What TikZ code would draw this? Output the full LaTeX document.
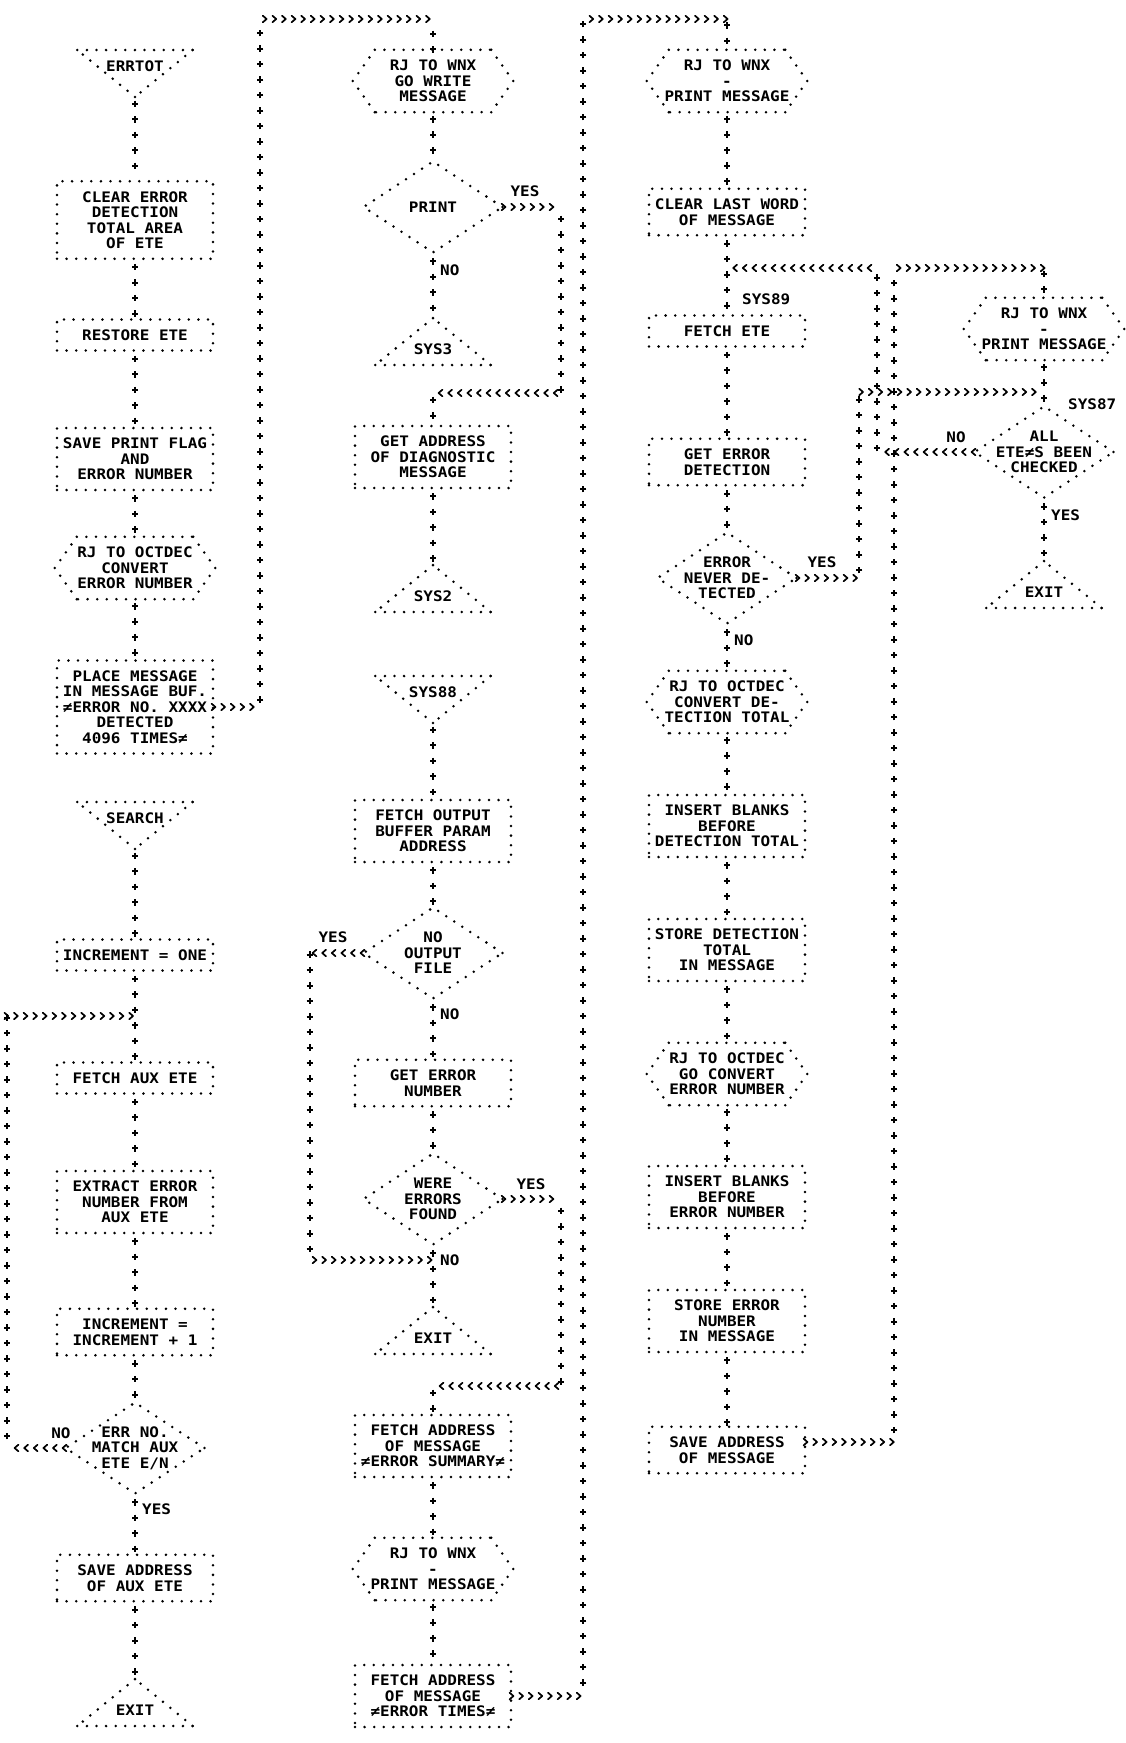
\documentclass[tikz,border=0pt]{standalone}
\usepackage{fontspec}
\newfontfamily\lpfont{DejaVu Sans Mono}[FakeStretch=1.1]
\usetikzlibrary{shapes.geometric,decorations.markings}
\newcommand\lpmark[1]{%
  \pgfgettransformentries{\lpa}{\lpb}{\lpc}{\lpd}{\lpx}{\lpy}%
  \pgfmathsetmacro\lph{abs(\lpa)}%
  \ifnum#1=1
    \ifdim\lph pt>0.5pt
      \draw[line width=1.7pt, line cap=round, line join=round, solid] (-2.8pt,3.3pt) -- (1pt,0pt) -- (-2.8pt,-3.3pt);
    \fi
  \else
    \ifdim\lph pt<0.5pt
      \draw[line width=2pt, solid] (-3.3pt,0pt) -- (3.3pt,0pt) (0pt,-3pt) -- (0pt,3pt);
    \fi
  \fi}

\begin{document}
\begin{tikzpicture}[
    x=1pt, y=-1pt,
    every node/.style={font=\lpfont\bfseries\fontsize{14.5}{15.5}\selectfont},
    dots/.style={line width=2.8pt, line cap=round, dash pattern=on 0pt off 9.6pt},
    box/.style={draw, dots, minimum width=156pt, inner sep=0pt, align=center},
    rjbox/.style={minimum width=160pt, minimum height=62pt, inner sep=0pt, align=center,
      append after command={
        (\tikzlastnode.west) edge[dots] ([xshift=22pt]\tikzlastnode.north west)
        ([xshift=22pt]\tikzlastnode.north west) edge[dots] ([xshift=-22pt]\tikzlastnode.north east)
        ([xshift=-22pt]\tikzlastnode.north east) edge[dots] (\tikzlastnode.east)
        (\tikzlastnode.east) edge[dots] ([xshift=-22pt]\tikzlastnode.south east)
        ([xshift=-22pt]\tikzlastnode.south east) edge[dots] ([xshift=22pt]\tikzlastnode.south west)
        ([xshift=22pt]\tikzlastnode.south west) edge[dots] (\tikzlastnode.west)}},
    termin/.style={minimum width=115pt, inner sep=0pt, text height=21pt, text depth=25.5pt,
      append after command={
        (\tikzlastnode.north west) edge[dots] (\tikzlastnode.north east)
        (\tikzlastnode.north east) edge[dots] (\tikzlastnode.south)
        (\tikzlastnode.south) edge[dots] (\tikzlastnode.north west)}},
    termout/.style={minimum width=115pt, inner sep=0pt, text height=36pt, text depth=10.5pt,
      append after command={
        (\tikzlastnode.south west) edge[dots] (\tikzlastnode.south east)
        (\tikzlastnode.south east) edge[dots] (\tikzlastnode.north)
        (\tikzlastnode.north) edge[dots] (\tikzlastnode.south west)}},
    decide/.style={diamond, draw, dots, aspect=1.5, inner sep=-4pt, minimum width=140pt, minimum height=92pt, align=center},
    lbl/.style={inner sep=0pt},
    flow/.style={
      postaction={decorate, decoration={markings,
        mark=between positions 0 and 1 step 9.6pt with {\lpmark{1}}}},
      postaction={decorate, decoration={markings,
        mark=between positions 7pt and 1 step 15.5pt with {\lpmark{0}}}}}
  ]
  \useasboundingbox (0,0) rectangle (1126,1743);

  \node[termin, anchor=north] (errtot) at (135,50) {ERRTOT};
  \node[box, minimum height=77.5pt] (clear) at (135,220) {CLEAR ERROR\\DETECTION\\TOTAL AREA\\OF ETE};
  \node[box, minimum height=31pt] (restore) at (135,335) {RESTORE ETE};
  \node[box, minimum height=62pt] (saveflag) at (135,459) {SAVE PRINT FLAG\\AND\\ERROR NUMBER};
  \node[rjbox] (octdec1) at (135,568) {RJ TO OCTDEC\\CONVERT\\ERROR NUMBER};
  \node[box, minimum height=93pt] (place) at (135,707) {PLACE MESSAGE\\IN MESSAGE BUF.\\≠ERROR NO. XXXX\\DETECTED\\4096 TIMES≠};
  \node[termin, anchor=north] (search) at (135,802) {SEARCH};
  \node[box, minimum height=31pt] (incone) at (135,955) {INCREMENT = ONE};
  \coordinate (j1) at (135,1016);
  \node[box, minimum height=31pt] (fetchaux) at (135,1078) {FETCH AUX ETE};
  \node[box, minimum height=62pt] (extract) at (135,1202) {EXTRACT ERROR\\NUMBER FROM\\AUX ETE};
  \node[box, minimum height=46.5pt] (incr) at (135,1332) {INCREMENT =\\INCREMENT + 1};
  \node[decide] (match) at (135,1448) {ERR NO.\\MATCH AUX\\ETE E/N};
  \node[box, minimum height=46.5pt] (saveaux) at (135,1578) {SAVE ADDRESS\\OF AUX ETE};
  \node[termout, anchor=south] (exit1) at (135,1726) {EXIT};

  \coordinate (t1) at (433,19);
  \node[rjbox] (rjwrite) at (433,81) {RJ TO WNX\\GO WRITE\\MESSAGE};
  \node[decide] (print) at (433,207) {PRINT};
  \node[termout, anchor=south] (sys3) at (433,365) {SYS3};
  \coordinate (j2) at (433,393);
  \node[box, minimum height=62pt] (getaddr) at (433,457) {GET ADDRESS\\OF DIAGNOSTIC\\MESSAGE};
  \node[termout, anchor=south] (sys2) at (433,612) {SYS2};
  \node[termin, anchor=north] (sys88) at (433,676) {SYS88};
  \node[box, minimum height=62pt] (fetchout) at (433,831) {FETCH OUTPUT\\BUFFER PARAM\\ADDRESS};
  \node[decide] (nooutput) at (433,953) {NO\\OUTPUT\\FILE};
  \node[box, minimum height=46.5pt] (geterr) at (433,1083) {GET ERROR\\NUMBER};
  \node[decide] (wereerr) at (433,1199) {WERE\\ERRORS\\FOUND};
  \coordinate (j3) at (433,1260);
  \node[termout, anchor=south] (exit2) at (433,1354) {EXIT};
  \coordinate (j4) at (433,1386);
  \node[box, minimum height=62pt] (sumaddr) at (433,1446) {FETCH ADDRESS\\OF MESSAGE\\≠ERROR SUMMARY≠};
  \node[rjbox] (rjprint2) at (433,1569) {RJ TO WNX\\-\\PRINT MESSAGE};
  \node[box, minimum height=62pt] (timesaddr) at (433,1696) {FETCH ADDRESS\\OF MESSAGE\\≠ERROR TIMES≠};

  \coordinate (t2) at (727,19);
  \node[rjbox] (rjprint3) at (727,81) {RJ TO WNX\\-\\PRINT MESSAGE};
  \node[box, minimum height=46.5pt] (clearlast) at (727,212) {CLEAR LAST WORD\\OF MESSAGE};
  \coordinate (j5) at (727,268);
  \node[box, minimum height=31pt] (fetchete) at (727,331) {FETCH ETE};
  \node[box, minimum height=46.5pt] (geterrdet) at (727,462) {GET ERROR\\DETECTION};
  \node[decide] (neverdet) at (727,578) {ERROR\\NEVER DE-\\TECTED};
  \node[rjbox] (octdec2) at (727,702) {RJ TO OCTDEC\\CONVERT DE-\\TECTION TOTAL};
  \node[box, minimum height=62pt] (insdet) at (727,826) {INSERT BLANKS\\BEFORE\\DETECTION TOTAL};
  \node[box, minimum height=62pt] (storedet) at (727,950) {STORE DETECTION\\TOTAL\\IN MESSAGE};
  \node[rjbox] (octdec3) at (727,1074) {RJ TO OCTDEC\\GO CONVERT\\ERROR NUMBER};
  \node[box, minimum height=62pt] (inserr) at (727,1197) {INSERT BLANKS\\BEFORE\\ERROR NUMBER};
  \node[box, minimum height=62pt] (storeerr) at (727,1321) {STORE ERROR\\NUMBER\\IN MESSAGE};
  \node[box, minimum height=46.5pt] (savemsg) at (727,1450) {SAVE ADDRESS\\OF MESSAGE};

  \coordinate (t3) at (1044,268);
  \node[rjbox] (rjprint4) at (1044,329) {RJ TO WNX\\-\\PRINT MESSAGE};
  \coordinate (j6) at (1044,392);
  \node[decide] (alldone) at (1044,452) {ALL\\ETE≠S BEEN\\CHECKED};
  \node[termout, anchor=south] (exit4) at (1044,608) {EXIT};

  \node[lbl] (yes1) at (525,191) {YES};
  \node[lbl, anchor=west] (no1) at (440,270) {NO};
  \node[lbl] (yes2) at (333,937) {YES};
  \node[lbl, anchor=west] (no2) at (440,1014) {NO};
  \node[lbl] (yes3) at (531,1184) {YES};
  \node[lbl, anchor=west] (no3) at (440,1260) {NO};
  \node[lbl] (no4) at (61,1433) {NO};
  \node[lbl, anchor=west] (yes4) at (142,1509) {YES};
  \node[lbl] (yes5) at (822,562) {YES};
  \node[lbl, anchor=west] (no5) at (734,640) {NO};
  \node[lbl, anchor=west] (sys89) at (742,299) {SYS89};
  \node[lbl] (no6) at (956,437) {NO};
  \node[lbl, anchor=west] (sys87) at (1068,404) {SYS87};
  \node[lbl, anchor=west] (yes6) at (1051,515) {YES};

  \path[flow] (errtot.south) -- (clear.north);
  \path[flow] (clear.south) -- (restore.north);
  \path[flow] (restore.south) -- (saveflag.north);
  \path[flow] (saveflag.south) -- (octdec1.north);
  \path[flow] (octdec1.south) -- (place.north);
  \path[flow] (place.east) -- ++(46,0) |- (t1) -- (rjwrite.north);
  \path[flow] (search.south) -- (incone.north);
  \path[flow] (incone.south) -- (fetchaux.north);
  \path[flow] (fetchaux.south) -- (extract.north);
  \path[flow] (extract.south) -- (incr.north);
  \path[flow] (incr.south) -- (match.north);
  \path[flow] (match.west) -- ++(-57,0) |- (j1);
  \path[flow] (match.south) -- (saveaux.north);
  \path[flow] (saveaux.south) -- (exit1.north);

  \path[flow] (rjwrite.south) -- (print.north);
  \path[flow] (print.south) -- (sys3.north);
  \path[flow] (print.east) -- ++(57,0) |- (j2);
  \path[flow] (j2) -- (getaddr.north);
  \path[flow] (getaddr.south) -- (sys2.north);
  \path[flow] (sys88.south) -- (fetchout.north);
  \path[flow] (fetchout.south) -- (nooutput.north);
  \path[flow] (nooutput.south) -- (geterr.north);
  \path[flow] (nooutput.west) -- ++(-52,0) |- (j3);
  \path[flow] (geterr.south) -- (wereerr.north);
  \path[flow] (wereerr.south) -- (exit2.north);
  \path[flow] (wereerr.east) -- ++(57,0) |- (j4);
  \path[flow] (j4) -- (sumaddr.north);
  \path[flow] (sumaddr.south) -- (rjprint2.north);
  \path[flow] (rjprint2.south) -- (timesaddr.north);
  \path[flow] (timesaddr.east) -- ++(71,0) |- (t2) -- (rjprint3.north);

  \path[flow] (rjprint3.south) -- (clearlast.north);
  \path[flow] (clearlast.south) -- (fetchete.north);
  \path[flow] (fetchete.south) -- (geterrdet.north);
  \path[flow] (geterrdet.south) -- (neverdet.north);
  \path[flow] (neverdet.south) -- (octdec2.north);
  \path[flow] (neverdet.east) -- ++(61,0) |- (j6);
  \path[flow] (octdec2.south) -- (insdet.north);
  \path[flow] (insdet.south) -- (storedet.north);
  \path[flow] (storedet.south) -- (octdec3.north);
  \path[flow] (octdec3.south) -- (inserr.north);
  \path[flow] (inserr.south) -- (storeerr.north);
  \path[flow] (storeerr.south) -- (savemsg.north);
  \path[flow] ([yshift=8pt]savemsg.east) -- ++(88,0) |- (t3) -- (rjprint4.north);

  \path[flow] (rjprint4.south) -- (alldone.north);
  \path[flow] (alldone.west) -- ++(-96,0) |- (j5);
  \path[flow] (alldone.south) -- (exit4.north);
\end{tikzpicture}
\end{document}
